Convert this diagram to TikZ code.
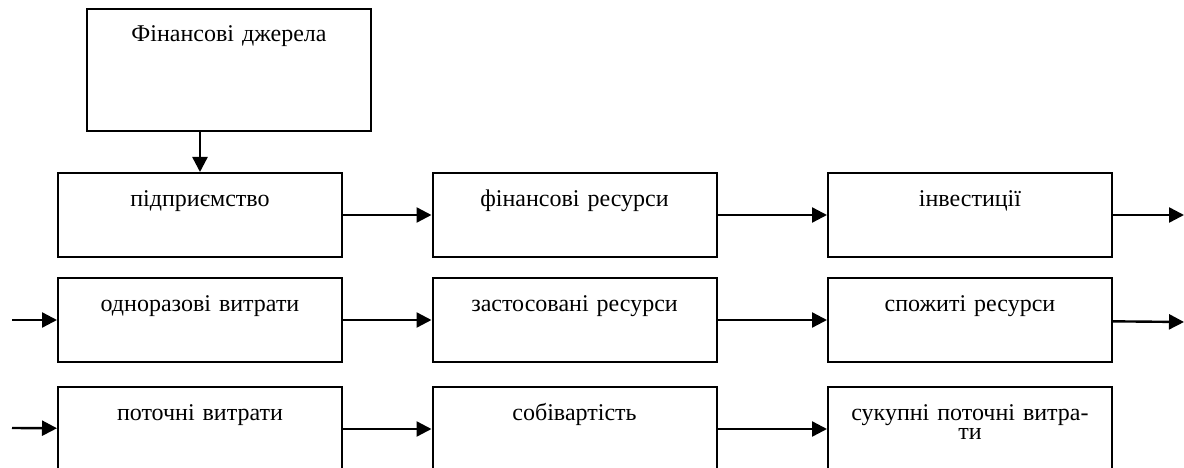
\documentclass[tikz,border=0pt]{standalone}
\usepackage{fontspec}
\setmainfont{Liberation Serif}
\usetikzlibrary{arrows.meta}
\begin{document}
\begin{tikzpicture}[x=1pt,y=-1pt,
    box/.style={draw, line width=2pt, inner sep=0pt, text width=284pt,
      align=center, text height=33pt, text depth=51pt,
      font=\fontsize{24}{19}\selectfont}]
      \useasboundingbox (0,0) rectangle (1184,468);
      \clip (0,0) rectangle (1184,468);
      \draw
        (229,70) node[box, text depth=89pt] (dzh){Фінансові джерела}
        (200,215) node[box] (pid){підприємство}
        (574.5,215) node[box] (fres){фінансові ресурси}
        (970,215) node[box] (inv){інвестиції}
        (200,320) node[box] (odn){одноразові витрати}
        (574.5,320) node[box] (zast){застосовані ресурси}
        (970,320) node[box] (spozh){спожиті ресурси}
        (200,429) node[box] (pot){поточні витрати}
        (574.5,429) node[box] (sob){собівартість}
        (970,429) node[box] (suk){сукупні поточні витра-\\ти};
      \coordinate (in2) at (12,320);
      \coordinate (in3) at (12,428);
      \coordinate (out1) at (1184,215);
      \coordinate (out2) at (1184,322);
      \begin{scope}[line width=2.4pt, -{Triangle[length=15pt,width=15pt]}]
        \draw (pid.north |- dzh.south) to (pid.north);
        \draw (pid) to (fres);
        \draw (fres) to (inv);
        \draw (inv) to (out1);
        \draw (in2) to (odn);
        \draw (odn) to (zast);
        \draw (zast) to (spozh);
        \draw (spozh) to (out2);
        \draw (in3) to (pot);
        \draw (pot) to (sob);
        \draw (sob) to (suk);
      \end{scope}
    \end{tikzpicture}
\end{document}
